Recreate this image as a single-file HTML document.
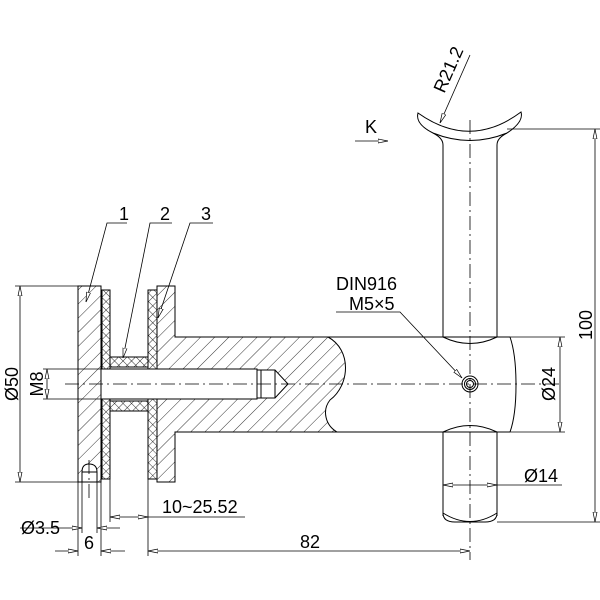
<!DOCTYPE html>
<html><head><meta charset="utf-8"><style>
html,body{margin:0;padding:0;background:#fff}
svg{display:block}
text{font-family:"Liberation Sans",Arial,sans-serif;font-size:18px;fill:#000}
</style></head><body>
<svg width="600" height="600" viewBox="0 0 600 600" xmlns="http://www.w3.org/2000/svg">
<defs>
<pattern id="h" width="10" height="10" patternUnits="userSpaceOnUse" patternTransform="rotate(45)">
<line x1="0" y1="0" x2="0" y2="10" stroke="#000" stroke-width="0.8"/>
</pattern>
<pattern id="x" width="6" height="6" patternUnits="userSpaceOnUse" patternTransform="rotate(45)">
<line x1="0" y1="0" x2="0" y2="6" stroke="#000" stroke-width="0.8"/>
<line x1="0" y1="0" x2="6" y2="0" stroke="#000" stroke-width="0.8"/>
</pattern>
<marker id="a" markerWidth="10" markerHeight="6" refX="10" refY="3" orient="auto" markerUnits="userSpaceOnUse">
<path d="M0,1 L10,3 L0,5 Z" fill="#fff" stroke="#000" stroke-width="0.7"/>
</marker>
</defs>
<g fill="none" stroke="#000" stroke-width="1">
<rect x="78" y="286" width="23" height="196" fill="url(#h)"/>
<path d="M82,482 L82,472 Q82,464 89,464 Q97,464 97,472 L97,482 Z" fill="#fff"/>
<line x1="82" y1="472" x2="97" y2="472"/>
<rect x="102" y="290" width="8" height="189" fill="url(#x)"/>
<rect x="148" y="290" width="9" height="189" fill="url(#x)"/>
<rect x="110" y="357" width="38" height="10" fill="url(#x)"/>
<rect x="110" y="401" width="38" height="10" fill="url(#x)"/>
<path d="M157,286 L175,286 L175,337 L328,337 C352,350 350,385 330,400 C322,410 325,425 337,432 L175,432 L175,482 L157,482 Z" fill="url(#h)"/>
<rect x="101" y="369" width="156" height="30" fill="#fff"/>
<path d="M257,370 L275,370 L288,384 L275,398 L257,398 Z" fill="#fff"/>
<line x1="275" y1="370" x2="275" y2="398"/>
<line x1="261" y1="370" x2="261" y2="398"/>
<line x1="328" y1="337" x2="510" y2="337"/>
<line x1="337" y1="432" x2="510" y2="432"/>
<path d="M510,337 C518,360 518,410 510,432"/>
<path d="M443,337 Q470,350 497,337"/>
<path d="M443,432 Q470,419 497,432"/>
<line x1="443" y1="145" x2="443" y2="337"/>
<line x1="497" y1="145" x2="497" y2="337"/>
<path d="M443,145 Q443,138 433,133"/>
<path d="M497,145 Q497,138 507,133"/>
<path d="M418,113 Q470,150 521,112 Q524,122 507,133 Q470,148 433,133 Q415,124 418,113 Z" fill="#fff"/>
<line x1="443" y1="432" x2="443" y2="516"/>
<line x1="497" y1="432" x2="497" y2="516"/>
<path d="M443,513 Q470,530 497,513"/>
<path d="M443,513 Q443,522 455,522 L485,522 Q497,522 497,513"/>
<circle cx="470" cy="384" r="8"/>
<circle cx="470" cy="384" r="5.5"/>
<circle cx="470" cy="384" r="3.5"/>
<g stroke-dasharray="14,4,2,4" stroke-width="0.8">
<line x1="65" y1="384" x2="560" y2="384"/>
<line x1="470" y1="120" x2="470" y2="560"/>
<line x1="89" y1="460" x2="89" y2="500"/>
</g>
<g stroke-width="0.8">
<line x1="15" y1="286" x2="78" y2="286"/><line x1="15" y1="482" x2="78" y2="482"/>
<line x1="20" y1="384" x2="20" y2="286" marker-end="url(#a)"/><line x1="20" y1="384" x2="20" y2="482" marker-end="url(#a)"/>
<line x1="43" y1="369" x2="101" y2="369"/><line x1="43" y1="399" x2="101" y2="399"/>
<line x1="47" y1="384" x2="47" y2="369" marker-end="url(#a)"/><line x1="47" y1="384" x2="47" y2="399" marker-end="url(#a)"/>
<line x1="82" y1="482" x2="82" y2="533"/><line x1="97" y1="482" x2="97" y2="533"/>
<line x1="78" y1="482" x2="78" y2="556"/><line x1="101" y1="482" x2="101" y2="556"/>
<line x1="110" y1="479" x2="110" y2="522"/><line x1="148" y1="479" x2="148" y2="556"/>
<line x1="20" y1="528" x2="82" y2="528" marker-end="url(#a)"/><line x1="120" y1="528" x2="97" y2="528" marker-end="url(#a)"/>
<line x1="55" y1="551" x2="78" y2="551" marker-end="url(#a)"/><line x1="125" y1="551" x2="101" y2="551" marker-end="url(#a)"/>
<line x1="130" y1="517" x2="110" y2="517" marker-end="url(#a)"/><line x1="130" y1="517" x2="148" y2="517" marker-end="url(#a)"/>
<line x1="148" y1="517" x2="245" y2="517"/>
<line x1="310" y1="551" x2="148" y2="551" marker-end="url(#a)"/><line x1="310" y1="551" x2="470" y2="551" marker-end="url(#a)"/>
<line x1="507" y1="129" x2="600" y2="129"/><line x1="497" y1="522" x2="600" y2="522"/>
<line x1="595" y1="325" x2="595" y2="129" marker-end="url(#a)"/><line x1="595" y1="325" x2="595" y2="522" marker-end="url(#a)"/>
<line x1="510" y1="337" x2="565" y2="337"/><line x1="510" y1="432" x2="565" y2="432"/>
<line x1="560" y1="384" x2="560" y2="337" marker-end="url(#a)"/><line x1="560" y1="384" x2="560" y2="432" marker-end="url(#a)"/>
<line x1="470" y1="485" x2="443" y2="485" marker-end="url(#a)"/><line x1="470" y1="485" x2="497" y2="485" marker-end="url(#a)"/>
<line x1="497" y1="485" x2="562" y2="485"/>
<line x1="355" y1="141" x2="388" y2="141" marker-end="url(#a)"/>
<line x1="470" y1="55" x2="440" y2="123" marker-end="url(#a)"/>
<polyline points="336,312 400,312 462,378" marker-end="url(#a)" fill="none"/>
<polyline points="127,223 107,223 86,302" marker-end="url(#a)" fill="none"/>
<polyline points="172,223 150,223 123,358" marker-end="url(#a)" fill="none"/>
<polyline points="213,223 190,223 158,318" marker-end="url(#a)" fill="none"/>
</g>
</g>
<text x="119" y="220">1</text>
<text x="160" y="220">2</text>
<text x="201" y="220">3</text>
<text x="365" y="133">K</text>
<text x="336" y="290">DIN916</text>
<text x="349" y="310">M5×5</text>
<text x="162" y="513">10~25.52</text>
<text x="21" y="534">Ø3.5</text>
<text x="84" y="549">6</text>
<text x="300" y="548">82</text>
<text x="524" y="482">Ø14</text>
<text transform="translate(18,384) rotate(-90)" text-anchor="middle">Ø50</text>
<text transform="translate(43,384) rotate(-90)" text-anchor="middle">M8</text>
<text transform="translate(555,384) rotate(-90)" text-anchor="middle">Ø24</text>
<text transform="translate(592,325) rotate(-90)" text-anchor="middle">100</text>
<text transform="translate(454,72) rotate(-66)" text-anchor="middle">R21.2</text>
</svg>
</body></html>
